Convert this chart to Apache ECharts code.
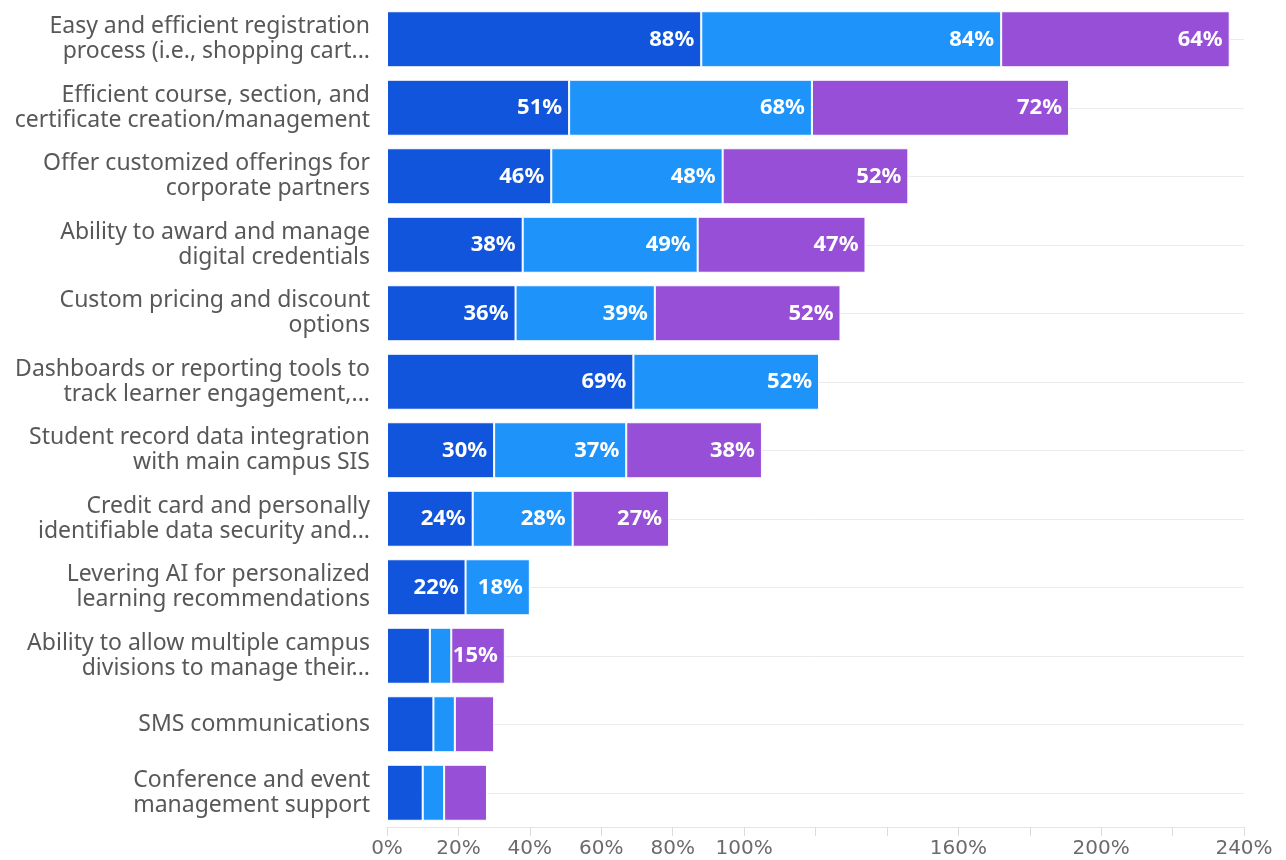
<!DOCTYPE html>
<html>
<head>
<meta charset="utf-8">
<script src="https://cdn.jsdelivr.net/npm/echarts@6/dist/echarts.min.js"></script>
<style>
  html, body { margin: 0; padding: 0; background: #ffffff; }
  #chart { width: 1286px; height: 860px; }
</style>
</head>
<body>
<div id="chart"></div>
<script>
// Features, top to bottom
const categories = [
  "Easy and efficient registration\nprocess (i.e., shopping cart...",
  "Efficient course, section, and\ncertificate creation/management",
  "Offer customized offerings for\ncorporate partners",
  "Ability to award and manage\ndigital credentials",
  "Custom pricing and discount\noptions",
  "Dashboards or reporting tools to\ntrack learner engagement,...",
  "Student record data integration\nwith main campus SIS",
  "Credit card and personally\nidentifiable data security and...",
  "Levering AI for personalized\nlearning recommendations",
  "Ability to allow multiple campus\ndivisions to manage their...",
  "SMS communications",
  "Conference and event\nmanagement support"
];

// Percent values for each stacked segment
const seriesA = [88, 51, 46, 38, 36, 69, 30, 24, 22, 12, 13, 10];
const seriesB = [84, 68, 48, 49, 39, 52, 37, 28, 18, 6, 6, 6];
const seriesC = [64, 72, 52, 47, 52, null, 38, 27, null, 15, 11, 12];

// Axis ticks every 20%, only some of them labelled
const tickLabels = [0, 20, 40, 60, 80, 100, 160, 200, 240];

const colors = ["#1155dd", "#1e94fb", "#974fd7"];
const FONT = "Noto Sans";

function barSeries(name, data, color) {
  return {
    name: name,
    type: "bar",
    stack: "total",
    data: data,
    barWidth: 56,
    zlevel: 1,
    itemStyle: { color: color, borderColor: "#ffffff", borderWidth: 1 },
    label: {
      show: true,
      position: "insideRight",
      distance: 7,
      color: "#ffffff",
      fontFamily: FONT,
      fontWeight: "bold",
      fontSize: 22,
      formatter: p => (p.value != null && p.value >= 15) ? p.value + "%" : ""
    }
  };
}

const chart = echarts.init(document.getElementById("chart"), null, { renderer: "canvas" });

chart.setOption({
  animation: false,
  backgroundColor: "#ffffff",
  textStyle: { fontFamily: FONT },
  grid: { left: 387, right: 42, top: 5, bottom: 33, containLabel: false },
  xAxis: {
    type: "value",
    min: 0,
    max: 240,
    interval: 20,
    splitLine: { show: false },
    axisLine: { show: true, lineStyle: { color: "#e6e6e6", width: 1 } },
    axisTick: { show: true, length: 9, lineStyle: { color: "#dcdcdc" } },
    axisLabel: {
      color: "#6b6b6b",
      fontFamily: "DejaVu Sans",
      fontSize: 20,
      margin: 12,
      formatter: v => tickLabels.includes(v) ? v + "%" : ""
    }
  },
  yAxis: {
    type: "category",
    inverse: true,
    data: categories,
    axisLine: { show: false },
    axisTick: { show: false },
    splitLine: { show: false },
    axisLabel: {
      color: "#585858",
      fontFamily: FONT,
      fontSize: 23,
      lineHeight: 25,
      align: "right",
      margin: 17
    }
  },
  series: [
    {
      // faint guide line through the middle of each row, kept beneath the bars
      name: "guides",
      type: "line",
      data: categories.map(() => null),
      zlevel: 0,
      silent: true,
      markLine: {
        silent: true,
        symbol: ["none", "none"],
        label: { show: false },
        lineStyle: { color: "#ebebeb", type: "solid", width: 1 },
        data: categories.map(c => ({ yAxis: c }))
      }
    },
    barSeries("Series A", seriesA, colors[0]),
    barSeries("Series B", seriesB, colors[1]),
    barSeries("Series C", seriesC, colors[2])
  ]
});
</script>
</body>
</html>
